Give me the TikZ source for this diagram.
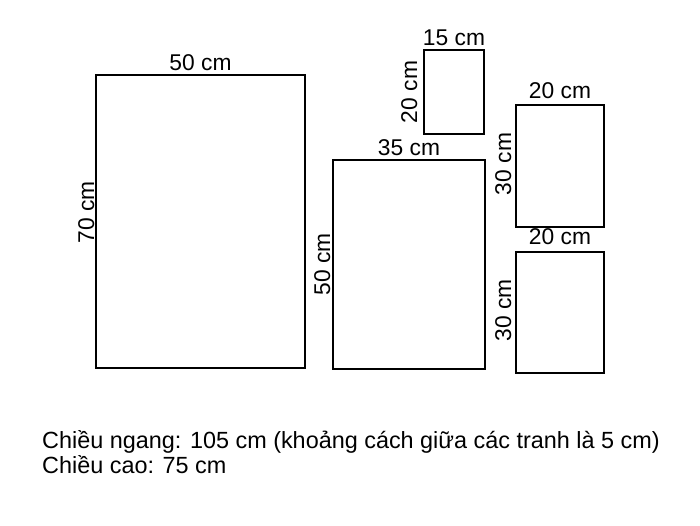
\documentclass[tikz,border=0pt]{standalone}
\usepackage{fontspec}
\setmainfont{Liberation Sans}
\usetikzlibrary{calc}
\tikzset{
  panel/.style={draw=black, line width=2pt, inner sep=0pt, outer sep=0pt, fill=white},
  dimtext/.style={inner sep=0pt, anchor=base, font=\fontsize{22.8}{25}\selectfont},
  vdim/.style={dimtext, rotate=90},
  note/.style={inner sep=0pt, anchor=base west, font=\fontsize{23.4}{25}\selectfont}
}
\begin{document}
\begin{tikzpicture}[x=1pt,y=-1pt]
\useasboundingbox[fill=white] (0,0) rectangle (700,525);
% panels
\node[panel, minimum width=209pt, minimum height=293pt] (p1) at (200.5,221.5) {};
\node[panel, minimum width=152pt, minimum height=209pt] (p2) at (409,264.5) {};
\node[panel, minimum width=60pt, minimum height=84pt] (p3) at (454,92) {};
\node[panel, minimum width=88pt, minimum height=122pt] (p4) at (560,166) {};
\node[panel, minimum width=88pt, minimum height=121pt] (p5) at (560,312.5) {};
% width labels
\node[dimtext] (w1) at ($(p1.north)+(0,-5)$) {50 cm};
\node[dimtext] (w2) at ($(p2.north)+(0,-5)$) {35 cm};
\node[dimtext] (w3) at ($(p3.north)+(0,-5)$) {15 cm};
\node[dimtext] (w4) at ($(p4.north)+(0,-7)$) {20 cm};
\node[dimtext] (w5) at ($(p5.north)+(0,-8)$) {20 cm};
% height labels
\node[vdim] (h1) at ($(p1.west)+(-2,-9)$) {70 cm};
\node[vdim] (h2) at ($(p2.west)+(-3,0)$) {50 cm};
\node[vdim] (h3) at ($(p3.west)+(-7,0)$) {20 cm};
\node[vdim] (h4) at ($(p4.west)+(-5,-2)$) {30 cm};
\node[vdim] (h5) at ($(p5.west)+(-5,-2)$) {30 cm};
% notes
\node[note] (n1) at (42,448) {Chiều ngang: 105 cm (khoảng cách giữa các tranh là 5 cm)};
\node[note] (n2) at (42,473) {Chiều cao: 75 cm};
\end{tikzpicture}
\end{document}
